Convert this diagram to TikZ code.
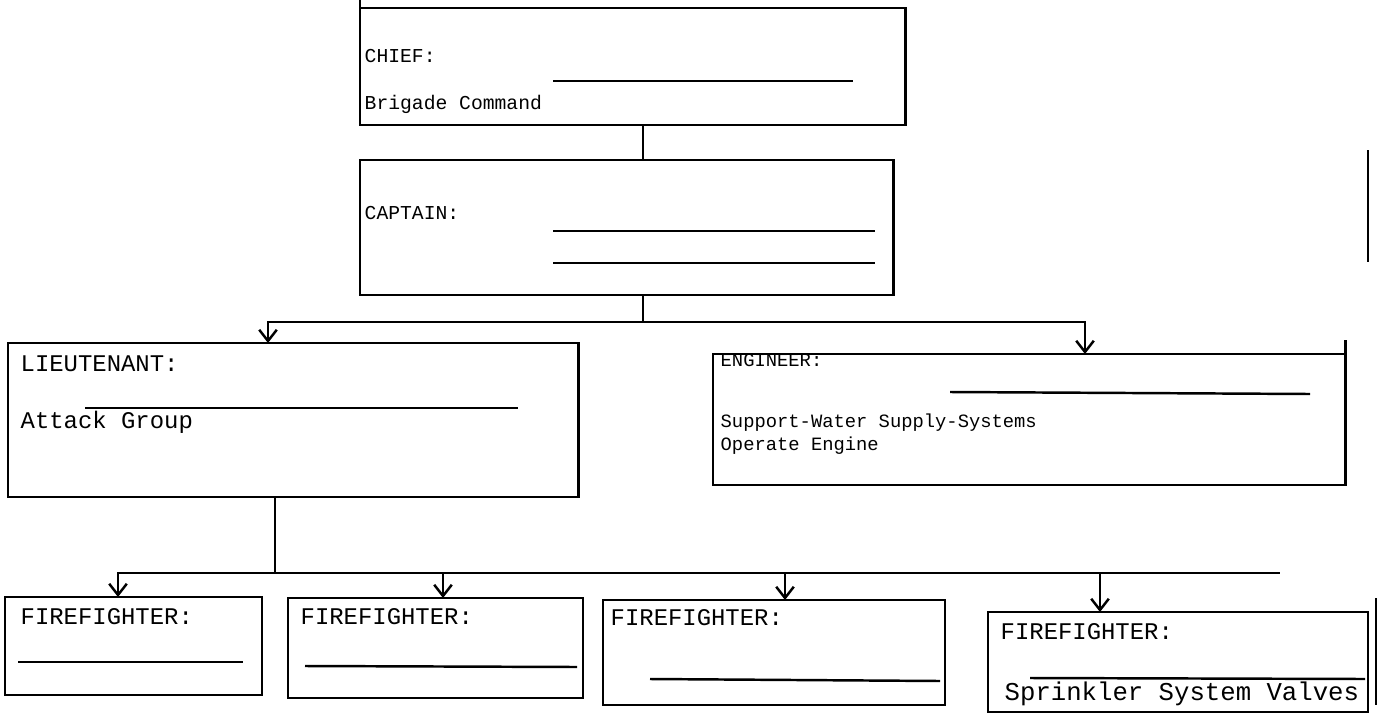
\documentclass[tikz,border=0pt]{standalone}
\usepackage{fontspec}
\setmainfont{Liberation Mono}
\usetikzlibrary{arrows.meta}
\begin{document}
\begin{tikzpicture}[x=0.01cm,y=-0.01cm,
  box/.style={draw, line width=0.7pt, anchor=north west, inner sep=0pt, outer sep=0pt},
  lbl/.style={anchor=base west, inner sep=0pt, font=\fontsize{5.6}{6.7}\selectfont},
  wlbl/.style={anchor=base west, inner sep=0pt, font=\fontsize{6.8}{8}\selectfont},
  blank/.style={line width=0.7pt},
  conn/.style={line width=0.7pt},
  arr/.style={line width=0.7pt, -{Straight Barb[length=3.2pt,width=5pt,line width=0.7pt]}}]
\useasboundingbox (0,0) rectangle (1378,724);
% boxes
\node[box, minimum width=5.45cm, minimum height=1.17cm] (chief) at (360,8) {};
\node[box, minimum width=5.33cm, minimum height=1.35cm] (captain) at (360,160) {};
\node[box, minimum width=5.70cm, minimum height=1.54cm] (lt) at (8,343) {};
\node[box, minimum width=6.32cm, minimum height=1.31cm] (eng) at (713,354) {};
\node[box, minimum width=2.57cm, minimum height=0.98cm] (ff1) at (5,597) {};
\node[box, minimum width=2.95cm, minimum height=1.00cm] (ff2) at (288,598) {};
\node[box, minimum width=3.42cm, minimum height=1.05cm] (ff3) at (603,600) {};
\node[box, minimum width=3.80cm, minimum height=1.00cm] (ff4) at (988,612) {};
\draw[conn] (chief.north west) -- ++(0,-8);
\draw[conn] (eng.north east) -- ++(0,-14);
% texts
\node[lbl] (tchief) at (364,62) {CHIEF:};
\node[lbl] (tbrig) at (364,109) {Brigade Command};
\draw[blank] (553,81) -- (853,81);
\node[lbl] (tcapt) at (364,219) {CAPTAIN:};
\draw[blank] (553,231) -- (875,231);
\draw[blank] (553,263) -- (875,263);
\node[wlbl] (tlt) at (20,371) {LIEUTENANT:};
\draw[blank] (85,408) -- (518,408);
\node[wlbl] (tatt) at (20,428) {Attack Group};
\node[lbl, font=\fontsize{5.35}{6.4}\selectfont] (teng) at (720,366) {ENGINEER:};
\draw[blank] (950,392) -- (1310,394);
\node[lbl, font=\fontsize{5.35}{6.4}\selectfont] (tsup) at (720,427) {Support-Water Supply-Systems};
\node[lbl, font=\fontsize{5.35}{6.4}\selectfont] (tope) at (720,450) {Operate Engine};
\node[wlbl] (tf1) at (20,624) {FIREFIGHTER:};
\draw[blank] (18,662) -- (243,662);
\node[wlbl] (tf2) at (300,624) {FIREFIGHTER:};
\draw[blank] (305,666) -- (577,667);
\node[wlbl] (tf3) at (610,625) {FIREFIGHTER:};
\draw[blank] (650,679) -- (940,681);
\node[wlbl] (tf4) at (1000,639) {FIREFIGHTER:};
\draw[blank] (1030,678) -- (1365,679);
\node[lbl, font=\fontsize{7.3}{8.6}\selectfont] (tspr) at (1004,700) {Sprinkler System Valves};
% connectors
\coordinate (b1) at (643,322);
\coordinate (ltin) at (268,343);
\coordinate (engin) at (1085,354);
\draw[conn] (chief.south -| b1) -- (captain.north -| b1);
\draw[conn] (captain.south -| b1) -- (b1);
\draw[arr] (b1) -| (ltin);
\draw[arr] (b1) -| (engin);
\coordinate (b2) at (275,573);
\coordinate (f1in) at (118,597);
\coordinate (f2in) at (443,598);
\coordinate (f3in) at (785,600);
\coordinate (f4in) at (1100,612);
\coordinate (bend) at (1280,573);
\draw[conn] (lt.south -| b2) -- (b2);
\draw[arr] (b2) -| (f1in);
\draw[conn] (b2) -- (bend);
\draw[arr] (f2in |- b2) -- (f2in);
\draw[arr] (f3in |- b2) -- (f3in);
\draw[arr] (f4in |- b2) -- (f4in);
% margin marks
\draw[conn] (1368,150) -- (1368,262);
\draw[conn] (1376,598) -- (1376,705);
\end{tikzpicture}
\end{document}
